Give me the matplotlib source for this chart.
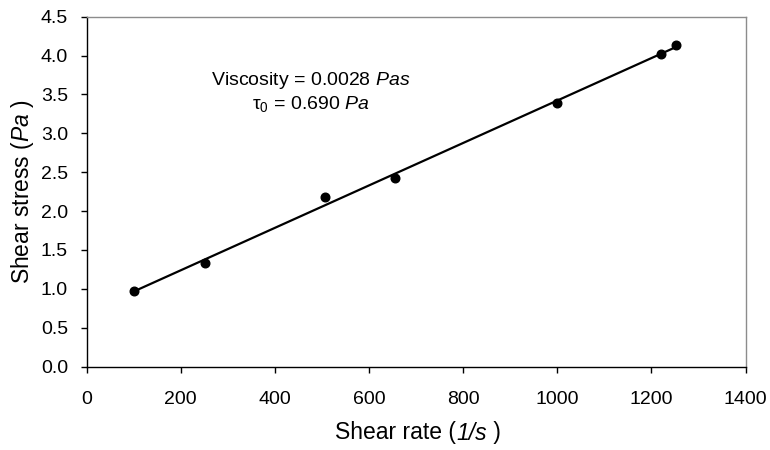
import numpy as np
import matplotlib
matplotlib.use("Agg")
import matplotlib.pyplot as plt
from matplotlib.offsetbox import TextArea, HPacker, AnnotationBbox

shear_rate = [100, 252, 507, 656, 1000, 1221, 1252]
shear_stress = [0.97, 1.337, 2.18, 2.43, 3.39, 4.02, 4.13]
x_ticks = [0, 200, 400, 600, 800, 1000, 1200, 1400]
y_ticks = [0.0, 0.5, 1.0, 1.5, 2.0, 2.5, 3.0, 3.5, 4.0, 4.5]

plt.rcParams['font.family'] = ['Liberation Sans', 'DejaVu Sans']
plt.rcParams['mathtext.fontset'] = 'custom'
plt.rcParams['mathtext.rm'] = 'Liberation Sans'
plt.rcParams['mathtext.it'] = 'Liberation Sans:italic'
plt.rcParams['mathtext.bf'] = 'Liberation Sans:bold'

W, H = 770, 450
fig = plt.figure(figsize=(7.7, 4.5), dpi=100)
ax = fig.add_axes([86.5 / W, 1 - 366.7 / H, (745.5 - 86.5) / W, (366.7 - 16.6) / H])

# linear fit
slope, intercept = np.polyfit(shear_rate, shear_stress, 1)
xf = np.array([min(shear_rate), 1250])
ax.plot(xf, intercept + slope * xf, color='black', lw=1.6, zorder=2)
ax.plot(shear_rate, shear_stress, 'o', color='black', ms=6.2, zorder=3)

ax.set_xlim(0, 1400)
ax.set_ylim(0, 4.5)
ax.set_xticks(x_ticks)
ax.set_yticks(y_ticks)
ax.set_xticklabels([str(v) for v in x_ticks])
ax.set_yticklabels([f"{v:.1f}" for v in y_ticks])
ax.tick_params(axis='both', direction='out', length=4.3, width=1, labelsize=14)
ax.tick_params(axis='x', pad=13.5)
ax.tick_params(axis='y', pad=9)

for s in ['left', 'bottom']:
    ax.spines[s].set_color('black')
    ax.spines[s].set_linewidth(1.0)
for s in ['top', 'right']:
    ax.spines[s].set_color('#8c8c8c')
    ax.spines[s].set_linewidth(1.0)

# x label with italic unit
fs_lab = 16.5
parts = [TextArea("Shear rate (", textprops=dict(fontsize=fs_lab)),
         TextArea("1/s", textprops=dict(fontsize=fs_lab, style='italic')),
         TextArea(" )", textprops=dict(fontsize=fs_lab))]
box = HPacker(children=parts, align="baseline", pad=0, sep=0)
ab = AnnotationBbox(box, (418 / W, 1 - 433 / H), xycoords='figure fraction',
                    frameon=False, box_alignment=(0.5, 0.5), pad=0)
fig.add_artist(ab)

# y label
fig.text(23 / W, 1 - 192 / H, r"Shear stress ($\it{Pa}$ )", rotation=90,
         ha='center', va='center', fontsize=fs_lab)

ax.text(477, 3.685, r"Viscosity = 0.0028 $\it{Pas}$",
        ha='center', va='center', fontsize=14)
ax.text(477, 3.377, r"$\mathrm{\tau}_0$ = 0.690 $\it{Pa}$",
        ha='center', va='center', fontsize=14)

fig.savefig("out.png", dpi=100)
